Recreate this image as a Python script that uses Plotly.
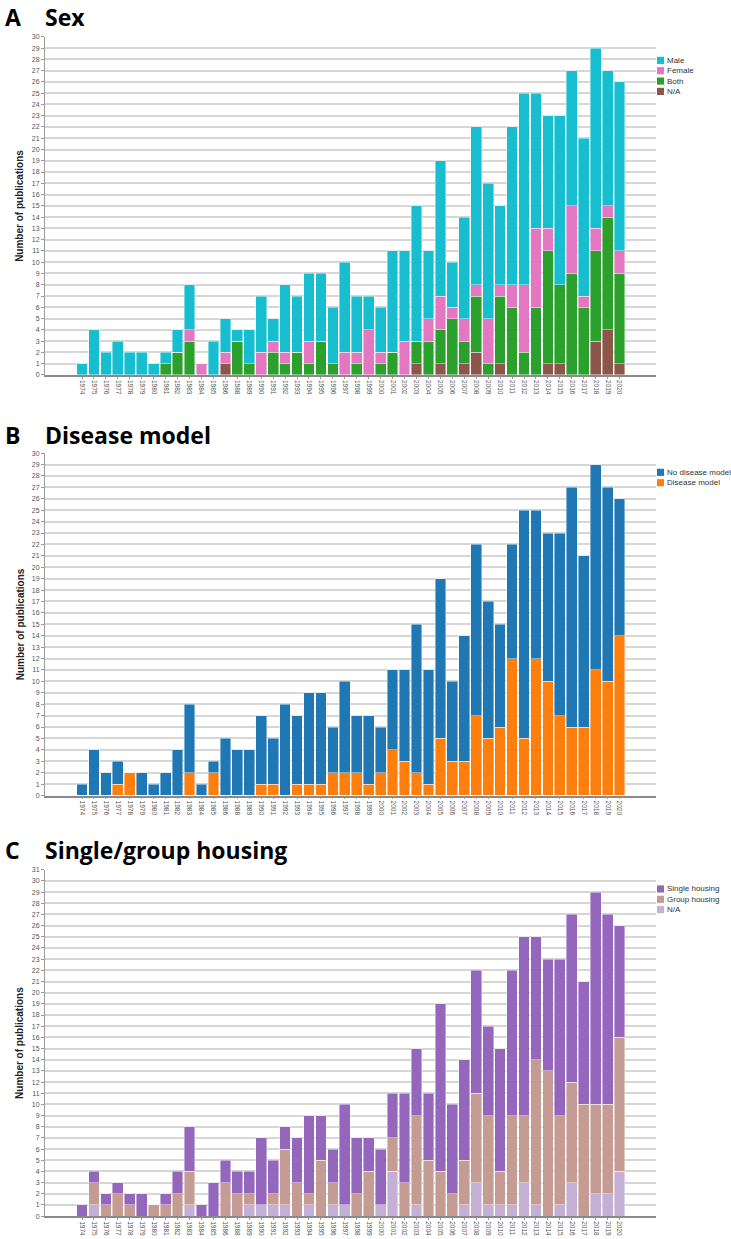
import plotly.graph_objects as go

W, H = 731, 1239

# categories (1987 has no publications and is absent from the axis)
years = ["1974", "1975", "1976", "1977", "1978", "1979", "1980", "1981", "1982", "1983",
         "1984", "1985", "1986", "1988", "1989", "1990", "1991", "1992", "1993", "1994",
         "1995", "1996", "1997", "1998", "1999", "2000", "2001", "2002", "2003", "2004",
         "2005", "2006", "2007", "2008", "2009", "2010", "2011", "2012", "2013", "2014",
         "2015", "2016", "2017", "2018", "2019", "2020"]

# A - Sex
sex_male = [1, 4, 2, 3, 2, 2, 1, 1, 2, 4, 0, 3, 3, 1, 3, 5, 2, 6, 5, 6, 6, 5, 8, 5, 3,
            4, 9, 8, 12, 6, 12, 4, 9, 14, 12, 7, 14, 17, 12, 10, 15, 12, 14, 16, 12, 15]
sex_female = [0, 0, 0, 0, 0, 0, 0, 0, 0, 1, 1, 0, 1, 0, 0, 2, 1, 1, 0, 2, 0, 0, 2, 1, 4,
              1, 0, 3, 0, 2, 3, 1, 2, 1, 4, 1, 2, 6, 7, 2, 0, 6, 1, 2, 1, 2]
sex_both = [0, 0, 0, 0, 0, 0, 0, 1, 2, 3, 0, 0, 0, 3, 1, 0, 2, 1, 2, 1, 3, 1, 0, 1, 0,
            1, 2, 0, 2, 3, 3, 5, 2, 5, 1, 6, 6, 2, 6, 10, 7, 9, 6, 8, 10, 8]
sex_na = [0, 0, 0, 0, 0, 0, 0, 0, 0, 0, 0, 0, 1, 0, 0, 0, 0, 0, 0, 0, 0, 0, 0, 0, 0,
          0, 0, 0, 1, 0, 1, 0, 1, 2, 0, 1, 0, 0, 0, 1, 1, 0, 0, 3, 4, 1]

# B - Disease model
no_disease = [1, 4, 2, 2, 0, 2, 1, 2, 4, 6, 1, 1, 5, 4, 4, 6, 4, 8, 6, 8, 8, 4, 8, 5, 6,
              4, 7, 8, 13, 10, 14, 7, 11, 15, 12, 9, 10, 20, 13, 13, 16, 21, 15, 18, 17, 12]
disease = [0, 0, 0, 1, 2, 0, 0, 0, 0, 2, 0, 2, 0, 0, 0, 1, 1, 0, 1, 1, 1, 2, 2, 2, 1,
           2, 4, 3, 2, 1, 5, 3, 3, 7, 5, 6, 12, 5, 12, 10, 7, 6, 6, 11, 10, 14]

# C - Single/group housing
single_housing = [1, 1, 1, 1, 1, 2, 0, 1, 2, 4, 1, 3, 2, 2, 2, 6, 3, 2, 4, 7, 4, 3, 9, 5, 3,
                  5, 4, 8, 6, 6, 15, 8, 9, 11, 8, 11, 13, 16, 11, 10, 14, 15, 11, 19, 17, 10]
group_housing = [0, 2, 1, 2, 1, 0, 1, 1, 2, 3, 0, 0, 3, 2, 1, 0, 1, 5, 3, 1, 5, 2, 0, 2, 4,
                 0, 3, 3, 8, 5, 4, 2, 4, 8, 8, 3, 8, 6, 13, 13, 8, 9, 10, 8, 8, 12]
housing_na = [0, 1, 0, 0, 0, 0, 0, 0, 0, 1, 0, 0, 0, 0, 1, 1, 1, 1, 0, 1, 0, 1, 1, 0, 0,
              1, 4, 0, 1, 0, 0, 0, 1, 3, 1, 1, 1, 3, 1, 0, 1, 3, 0, 2, 2, 4]


def px_x(x):
    return x / W


def px_y(y):
    return 1 - y / H


# series listed bottom-to-top of the stack
panels = [
    dict(letter="A", title="Sex", ymax=30, top=33, bottom=373, title_y=13, legend_y=56.7,
         series=[("N/A", sex_na, "#8c564b"), ("Both", sex_both, "#2ca02c"),
                 ("Female", sex_female, "#e377c2"), ("Male", sex_male, "#17becf")]),
    dict(letter="B", title="Disease model", ymax=30, top=451.7, bottom=796, title_y=433,
         legend_y=471,
         series=[("Disease model", disease, "#ff7f0e"),
                 ("No disease model", no_disease, "#1f77b4")]),
    dict(letter="C", title="Single/group housing", ymax=31, top=870.7, bottom=1219,
         title_y=851, legend_y=890,
         series=[("N/A", housing_na, "#c5b0d5"), ("Group housing", group_housing, "#c49c94"),
                 ("Single housing", single_housing, "#9467bd")]),
]

fig = go.Figure()
shapes = []
annotations = []
layout_axes = {}

for i, p in enumerate(panels):
    suffix = "" if i == 0 else str(i + 1)
    for name, vals, color in p["series"]:
        fig.add_trace(go.Bar(
            x=years, y=vals, name=name,
            marker=dict(color=color, line=dict(color="rgba(255,255,255,0.7)", width=0.6)),
            xaxis="x" + suffix, yaxis="y" + suffix, showlegend=False,
        ))

    layout_axes["xaxis" + suffix] = dict(
        domain=[px_x(45), px_x(656)], anchor="y" + suffix, type="category",
        range=[-3.1, 48.05], tickangle=90, showgrid=False,
        tickfont=dict(size=6.5, color="#555555", family="Liberation Sans"),
        ticks="outside", ticklen=2, tickcolor="#999999",
        showline=True, linecolor="#8a8a8a", linewidth=1.5, fixedrange=True,
    )
    layout_axes["yaxis" + suffix] = dict(
        domain=[px_y(p["bottom"]), px_y(p["top"])], anchor="x" + suffix,
        range=[0, p["ymax"]], dtick=1, tick0=0,
        showgrid=True, gridcolor="#d6d6d6", gridwidth=1.5,
        tickfont=dict(size=7, color="#555555", family="Liberation Sans"),
        ticks="outside", ticklen=3, tickcolor="#999999",
        showline=True, linecolor="#9a9a9a", linewidth=1, zeroline=False,
    )

    # panel heading
    annotations.append(dict(
        text="<b>%s</b>" % p["letter"], x=px_x(3), y=px_y(p["title_y"]),
        xref="paper", yref="paper", xanchor="left", yanchor="middle", showarrow=False,
        font=dict(size=23, color="black", family="Open Sans"),
    ))
    annotations.append(dict(
        text="<b>%s</b>" % p["title"], x=px_x(43), y=px_y(p["title_y"]),
        xref="paper", yref="paper", xanchor="left", yanchor="middle", showarrow=False,
        font=dict(size=23, color="black", family="Open Sans"),
    ))

    # y axis title
    annotations.append(dict(
        text="<b>Number of publications</b>", x=px_x(20),
        y=px_y((p["top"] + p["bottom"]) / 2), xref="paper", yref="paper",
        xanchor="center", yanchor="middle", textangle=-90, showarrow=False,
        font=dict(size=10, color="#222222", family="Liberation Sans"),
    ))

    # legend, top entry first
    for k, (name, vals, color) in enumerate(reversed(p["series"])):
        cy = p["legend_y"] + k * 10.4
        shapes.append(dict(
            type="rect", xref="paper", yref="paper",
            x0=px_x(657), x1=px_x(664), y0=px_y(cy + 3.6), y1=px_y(cy - 3.6),
            fillcolor=color, line=dict(width=0),
        ))
        annotations.append(dict(
            text=name, x=px_x(665), y=px_y(cy), xref="paper", yref="paper",
            xanchor="left", yanchor="middle", showarrow=False,
            font=dict(size=8, color="#333333", family="Liberation Sans"),
        ))

fig.update_layout(
    width=W, height=H,
    margin=dict(l=0, r=0, t=0, b=0),
    paper_bgcolor="white", plot_bgcolor="white",
    barmode="stack", bargap=0.1,
    shapes=shapes, annotations=annotations,
    **layout_axes,
)

# drop the default page margin so the 731x1239 figure fills the window exactly
fig.write_html("out.html", config={"displayModeBar": False},
               post_script="document.body.style.margin = '0';")
